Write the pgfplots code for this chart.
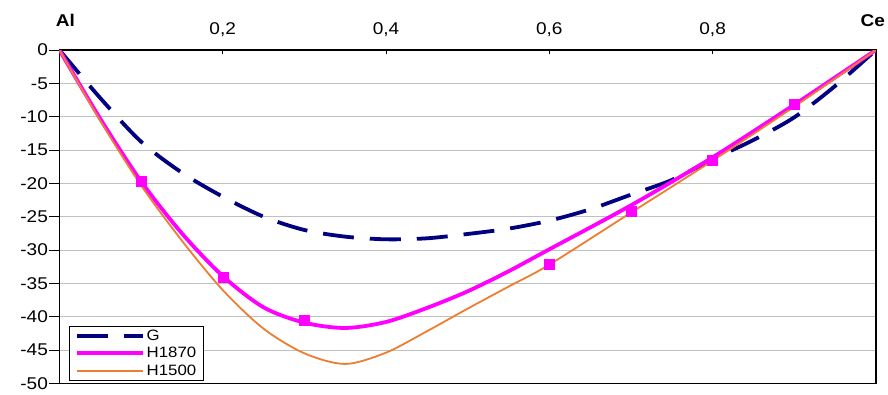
\documentclass[border=0pt]{standalone}
\usepackage{pgfplots}
\pgfplotsset{compat=1.18}
\usepackage{fontspec}
\setmainfont{Liberation Sans}[FakeStretch=1.12]
\definecolor{gnavy}{RGB}{0,0,128}
\definecolor{hmag}{RGB}{255,0,255}
\definecolor{horange}{RGB}{237,125,49}
\definecolor{gridgray}{RGB}{192,192,192}
\begin{document}
\begin{tikzpicture}
\begin{axis}[
  set layers=standard,
  scale only axis, width=816.5pt, height=333.3pt,
  xmin=0, xmax=1, ymin=-50, ymax=0,
  axis line style={line width=1.6pt, black},
  xtick=\empty,
  extra x ticks={0.2,0.4,0.6,0.8},
  extra x tick labels={{0,2},{0,4},{0,6},{0,8}},
  extra x tick style={tick align=inside, major tick length=4pt, grid=none},
  xtick pos=right, xticklabel pos=right,
  ytick={-50,-45,...,0},
  ytick pos=left,
  tick align=outside, major tick length=10pt,
  tick style={line width=0.8pt, black},
  ymajorgrids, grid style={gridgray, line width=0.8pt},
  /pgf/number format/assume math mode=true,
  tick label style={font=\fontsize{17}{20}\selectfont},
  x tick label style={yshift=10pt},
  y tick label style={xshift=2pt},
  legend style={at={(0,0)}, anchor=south west, xshift=9.6pt, yshift=2.6pt,
    draw=black, line width=0.8pt, fill=white,
    font=\fontsize{15}{17}\selectfont, inner xsep=6pt, inner ysep=2pt, row sep=2.5pt,
    nodes={inner sep=1.5pt}},
  legend cell align=left,
  legend image code/.code={\draw[#1] (0pt,0pt) -- (66pt,0pt);},
]
\addplot[gnavy, line width=3.8pt, dash pattern=on 31pt off 16pt, smooth] coordinates {
(0,0) (0.05,-7.2) (0.1,-13.75) (0.15,-18.4) (0.2,-22) (0.25,-25) (0.3,-27)
(0.35,-28) (0.4,-28.4) (0.45,-28.25) (0.5,-27.6) (0.55,-26.8) (0.6,-25.6)
(0.65,-23.9) (0.7,-21.7) (0.75,-19.5) (0.8,-16.4) (0.85,-13.5) (0.9,-10.1)
(0.95,-5.4) (1,0)};
\addlegendentry{G}
\addplot[hmag, line width=3.8pt, smooth] coordinates {
(0,0) (0.05,-10.3) (0.1,-19.7) (0.15,-27.5) (0.2,-33.9) (0.25,-38.6) (0.3,-40.9)
(0.35,-41.7) (0.4,-40.8) (0.45,-38.7) (0.5,-36.2) (0.55,-33.2) (0.6,-29.9)
(0.7,-23.3) (0.8,-16.1) (0.9,-8.2) (1,0)};
\addlegendentry{H1870}
\addplot[horange, line width=1.8pt, smooth] coordinates {
(0,0) (0.05,-10.6) (0.1,-20.3) (0.15,-28.6) (0.2,-36) (0.25,-41.8) (0.3,-45.5)
(0.35,-47.1) (0.4,-45.4) (0.45,-42.2) (0.5,-38.8) (0.55,-35.5) (0.6,-32.2)
(0.7,-24.4) (0.8,-16.6) (0.9,-8.5) (1,0)};
\addlegendentry{H1500}
\addplot[only marks, mark=square*, mark size=5pt, hmag, forget plot] coordinates {
(0.1,-19.75) (0.2,-34.1) (0.3,-40.5) (0.6,-32.15) (0.7,-24.25) (0.8,-16.6) (0.9,-8.1)};
\end{axis}
\node[anchor=base, font=\bfseries\fontsize{17}{20}\selectfont] at ([xshift=6pt, yshift=23.3pt]current axis.north west) {Al};
\node[anchor=base, font=\bfseries\fontsize{17}{20}\selectfont] at ([xshift=-3pt, yshift=23.3pt]current axis.north east) {Ce};
\pgfresetboundingbox
\path (current axis.south west) ++(-59.4pt,-10.7pt);
\path (current axis.north east) ++(12.1pt,50pt);
\end{tikzpicture}
\end{document}
